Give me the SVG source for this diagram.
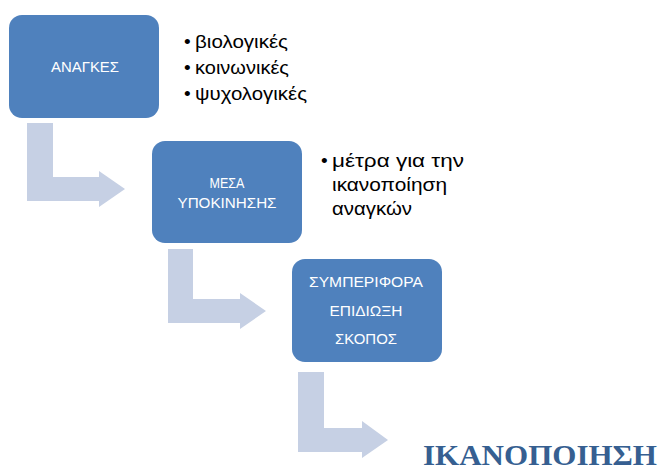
<svg xmlns="http://www.w3.org/2000/svg" width="663" height="472" viewBox="0 0 663 472">
<style>
.box{fill:#4F81BD}
.arrow{fill:#C6D0E4}
.bt{font-family:"Liberation Sans",Arial,sans-serif;font-size:15.5px;fill:#fff;text-anchor:middle}
.lt{font-family:"Liberation Sans",Arial,sans-serif;font-size:18px;fill:#000}
.lt2{font-family:"Liberation Sans",Arial,sans-serif;font-size:19px;fill:#000}
.bul{font-family:"Liberation Sans",Arial,sans-serif;font-size:19px;fill:#000}
.fin{font-family:"Liberation Serif","Times New Roman",serif;font-size:30px;font-weight:bold;fill:#365F91}
</style>
<rect width="663" height="472" fill="#fff"/>
<g id="connectors">
<path class="arrow" d="M27,123 H53 V177 H99 V171 L125,189 L99,207 V201 H27 Z"/>
<path class="arrow" d="M168,249 H193 V299 H240 V293 L266,311 L240,329 V323 H168 Z"/>
<path class="arrow" d="M298,372 H324 V428 H362 V421 L388,440 L362,458 V452 H298 Z"/>
</g>
<g id="node-anagkes">
<rect class="box" x="9" y="15" width="150" height="103" rx="13"/>
<text class="bt" x="85" y="72" textLength="68" lengthAdjust="spacingAndGlyphs">ΑΝΑΓΚΕΣ</text>
</g>
<g id="list-anagkes">
<text class="bul" x="184" y="48">•</text>
<text class="lt" x="195" y="48" textLength="93" lengthAdjust="spacingAndGlyphs">βιολογικές</text>
<text class="bul" x="184" y="74">•</text>
<text class="lt" x="195" y="74" textLength="94" lengthAdjust="spacingAndGlyphs">κοινωνικές</text>
<text class="bul" x="184" y="100">•</text>
<text class="lt" x="195" y="100" textLength="112" lengthAdjust="spacingAndGlyphs">ψυχολογικές</text>
</g>
<g id="node-mesa">
<rect class="box" x="152" y="141" width="150" height="102" rx="13"/>
<text class="bt" x="227" y="188" textLength="35" lengthAdjust="spacingAndGlyphs">ΜΕΣΑ</text>
<text class="bt" x="227" y="208" textLength="99" lengthAdjust="spacingAndGlyphs">ΥΠΟΚΙΝΗΣΗΣ</text>
</g>
<g id="list-mesa">
<text class="bul" x="321" y="167">•</text>
<text class="lt2" x="332" y="167" textLength="132" lengthAdjust="spacingAndGlyphs">μέτρα για την</text>
<text class="lt2" x="332" y="191" textLength="115" lengthAdjust="spacingAndGlyphs">ικανοποίηση</text>
<text class="lt2" x="332" y="215" textLength="80" lengthAdjust="spacingAndGlyphs">αναγκών</text>
</g>
<g id="node-symperifora">
<rect class="box" x="292" y="259" width="150" height="103" rx="13"/>
<text class="bt" x="366" y="287" textLength="114" lengthAdjust="spacingAndGlyphs">ΣΥΜΠΕΡΙΦΟΡΑ</text>
<text class="bt" x="366" y="316" textLength="73" lengthAdjust="spacingAndGlyphs">ΕΠΙΔΙΩΞΗ</text>
<text class="bt" x="366" y="344" textLength="62" lengthAdjust="spacingAndGlyphs">ΣΚΟΠΟΣ</text>
</g>
<g id="node-ikanopoiisi">
<text class="fin" x="423" y="465" textLength="234" lengthAdjust="spacingAndGlyphs">ΙΚΑΝΟΠΟΙΗΣΗ</text>
</g>
</svg>
